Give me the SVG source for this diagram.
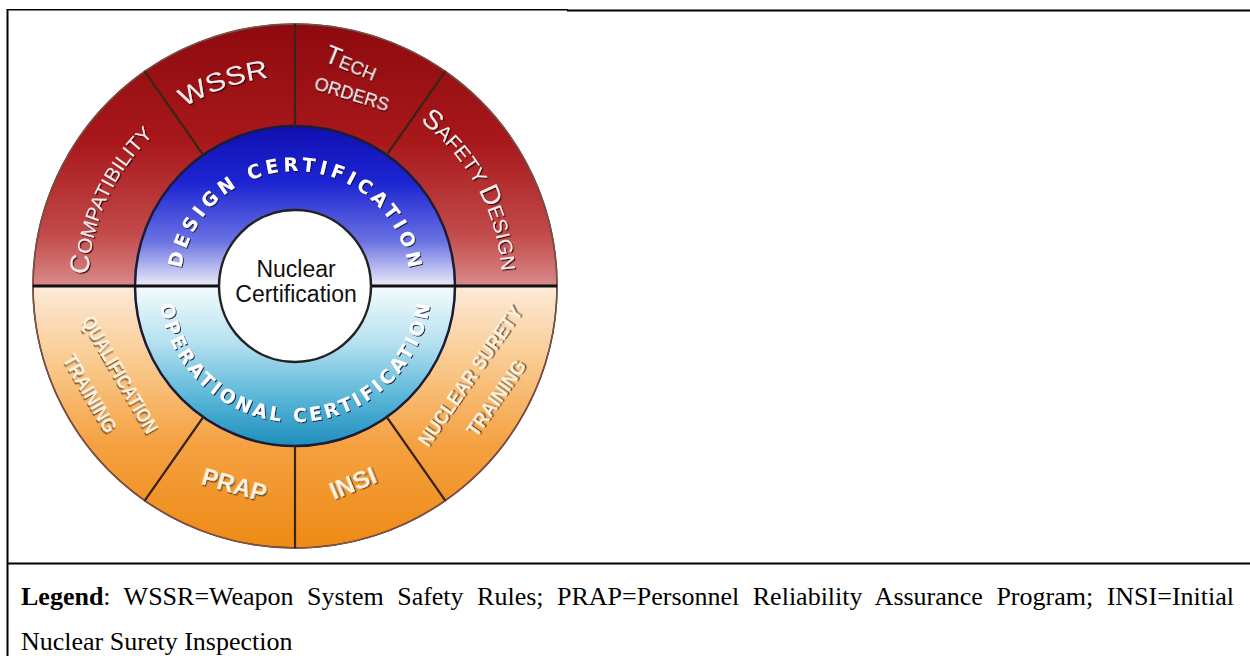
<svg xmlns="http://www.w3.org/2000/svg" width="1250" height="656" viewBox="0 0 1250 656">
<defs>
<linearGradient id="gRed" gradientUnits="userSpaceOnUse" x1="0" y1="-262" x2="0" y2="0">
<stop offset="0" stop-color="#8e0a0e"/><stop offset="0.45" stop-color="#a8181b"/><stop offset="0.8" stop-color="#c24a4a"/><stop offset="1" stop-color="#d98a8a"/>
</linearGradient>
<linearGradient id="gBlue" gradientUnits="userSpaceOnUse" x1="0" y1="-160" x2="0" y2="0">
<stop offset="0" stop-color="#1010b0"/><stop offset="0.35" stop-color="#1c24d2"/><stop offset="0.72" stop-color="#6a72e2"/><stop offset="1" stop-color="#ececf8"/>
</linearGradient>
<linearGradient id="gTeal" gradientUnits="userSpaceOnUse" x1="0" y1="0" x2="0" y2="160">
<stop offset="0" stop-color="#f4fbfd"/><stop offset="0.35" stop-color="#b6e1f0"/><stop offset="0.7" stop-color="#58b6d8"/><stop offset="1" stop-color="#1e8ebc"/>
</linearGradient>
<linearGradient id="gOrange" gradientUnits="userSpaceOnUse" x1="0" y1="0" x2="0" y2="262">
<stop offset="0" stop-color="#fdeada"/><stop offset="0.3" stop-color="#f9c98c"/><stop offset="0.6" stop-color="#f5a142"/><stop offset="1" stop-color="#ee8a14"/>
</linearGradient>
<filter id="shR" x="-20%" y="-20%" width="140%" height="140%"><feDropShadow dx="1.2" dy="1.2" stdDeviation="0.6" flood-color="#2a0404" flood-opacity="0.9"/></filter>
<filter id="shB" x="-20%" y="-20%" width="140%" height="140%"><feDropShadow dx="1" dy="1" stdDeviation="0.6" flood-color="#0a0a40" flood-opacity="0.9"/></filter>
<filter id="shO" x="-20%" y="-20%" width="140%" height="140%"><feDropShadow dx="1.2" dy="1.2" stdDeviation="0.6" flood-color="#5a2e00" flood-opacity="0.95"/></filter>
<path id="pCompat" d="M -207 0 A 207 207 0 0 1 -133.1 -158.6"/>
<path id="pWssr" d="M -147.2 -149.8 A 210 210 0 0 1 20.1 -209.0"/>
<path id="pSafety" d="M 92.4 -185.2 A 207 207 0 0 1 205.7 23.4"/>
<path id="pDesign" d="M -115 0 A 115 115 0 0 1 115 0"/>
<path id="pOper" d="M -136 0 A 136 136 0 0 0 136 0"/>
</defs>
<style>
.seg{stroke:#5a3020;stroke-width:1.5}
.div{stroke:#3a2418;stroke-width:2.2;fill:none}
.lbR{font-family:"Liberation Sans",Arial,sans-serif;fill:#f6eaea;filter:url(#shR)}
.lbB{font-family:"DejaVu Sans",sans-serif;font-weight:bold;fill:#ffffff;filter:url(#shB)}
.lbO{font-family:"Liberation Sans",Arial,sans-serif;font-weight:bold;fill:#fff4df;filter:url(#shO)}
.ctr{font-family:"Liberation Sans",Arial,sans-serif;font-size:23px;fill:#111}
.leg{font-family:"Liberation Serif","Times New Roman",serif;font-size:26px;fill:#000}
.frame{stroke:#000;fill:none}
</style>

<g id="frame">
<line class="frame" x1="7" y1="9.8" x2="568" y2="9.8" stroke-width="1.5"/>
<line class="frame" x1="567" y1="10.5" x2="1250" y2="10.5" stroke-width="2.2"/>
<line class="frame" x1="7.5" y1="9" x2="7.5" y2="656" stroke-width="2"/>
<line class="frame" x1="7" y1="563.5" x2="1250" y2="563.5" stroke-width="2.2"/>
</g>

<g id="wheel" transform="translate(295,286)">
<g id="seg-compatibility"><path class="seg" fill="url(#gRed)" d="M -262 0 A 262 262 0 0 1 -150.3 -214.6 L -91.8 -131.1 A 160 160 0 0 0 -160 0 Z"/>
<text class="lbR" font-size="20"><textPath href="#pCompat" startOffset="50%" text-anchor="middle" textLength="158" lengthAdjust="spacingAndGlyphs"><tspan font-size="27">C</tspan>OMPATIBILITY</textPath></text></g>
<g id="seg-wssr"><path class="seg" fill="url(#gRed)" d="M -150.3 -214.6 A 262 262 0 0 1 0 -262 L 0 -160 A 160 160 0 0 0 -91.8 -131.1 Z"/>
<text class="lbR" font-size="26"><textPath href="#pWssr" startOffset="50%" text-anchor="middle" textLength="90" lengthAdjust="spacingAndGlyphs">WSSR</textPath></text></g>
<g id="seg-tech"><path class="seg" fill="url(#gRed)" d="M 0 -262 A 262 262 0 0 1 150.3 -214.6 L 91.8 -131.1 A 160 160 0 0 0 0 -160 Z"/>
<text class="lbR" font-size="18" text-anchor="middle" transform="translate(53,-215) rotate(22)"><tspan font-size="25">T</tspan>ECH</text>
<text class="lbR" font-size="18" text-anchor="middle" transform="translate(55,-186) rotate(17)">ORDERS</text></g>
<g id="seg-safety"><path class="seg" fill="url(#gRed)" d="M 150.3 -214.6 A 262 262 0 0 1 262 0 L 160 0 A 160 160 0 0 0 91.8 -131.1 Z"/>
<text class="lbR" font-size="20"><textPath href="#pSafety" startOffset="50%" text-anchor="middle" textLength="176" lengthAdjust="spacingAndGlyphs"><tspan font-size="27">S</tspan>AFETY <tspan font-size="27">D</tspan>ESIGN</textPath></text></g>
<g id="seg-nuclear-surety"><path class="seg" fill="url(#gOrange)" d="M 262 0 A 262 262 0 0 1 150.3 214.6 L 91.8 131.1 A 160 160 0 0 0 160 0 Z"/>
<text class="lbO" font-size="21" text-anchor="middle" textLength="166" lengthAdjust="spacingAndGlyphs" transform="translate(181,94) rotate(-55)">NUCLEAR SURETY</text>
<text class="lbO" font-size="21" text-anchor="middle" textLength="88" lengthAdjust="spacingAndGlyphs" transform="translate(207,116) rotate(-55)">TRAINING</text></g>
<g id="seg-insi"><path class="seg" fill="url(#gOrange)" d="M 150.3 214.6 A 262 262 0 0 1 0 262 L 0 160 A 160 160 0 0 0 91.8 131.1 Z"/>
<text class="lbO" font-size="23" font-weight="normal" text-anchor="middle" textLength="48" lengthAdjust="spacingAndGlyphs" transform="translate(61,205) rotate(-22)">INSI</text></g>
<g id="seg-prap"><path class="seg" fill="url(#gOrange)" d="M 0 262 A 262 262 0 0 1 -150.3 214.6 L -91.8 131.1 A 160 160 0 0 0 0 160 Z"/>
<text class="lbO" font-size="23" font-weight="normal" text-anchor="middle" textLength="66" lengthAdjust="spacingAndGlyphs" transform="translate(-63,207) rotate(16)">PRAP</text></g>
<g id="seg-qualification"><path class="seg" fill="url(#gOrange)" d="M -150.3 214.6 A 262 262 0 0 1 -262 0 L -160 0 A 160 160 0 0 0 -91.8 131.1 Z"/>
<text class="lbO" font-size="21" text-anchor="middle" textLength="132" lengthAdjust="spacingAndGlyphs" transform="translate(-181,92) rotate(60)">QUALIFICATION</text>
<text class="lbO" font-size="21" text-anchor="middle" textLength="87" lengthAdjust="spacingAndGlyphs" transform="translate(-211,111) rotate(60)">TRAINING</text></g>

<g id="ring-design"><path fill="url(#gBlue)" d="M -160 0 A 160 160 0 0 1 160 0 L 76 0 A 76 76 0 0 0 -76 0 Z"/>
<text class="lbB" font-size="19"><textPath href="#pDesign" startOffset="50%" text-anchor="middle" textLength="326" lengthAdjust="spacing">DESIGN  CERTIFICATION</textPath></text></g>
<g id="ring-operational"><path fill="url(#gTeal)" d="M 160 0 A 160 160 0 0 1 -160 0 L -76 0 A 76 76 0 0 0 76 0 Z"/>
<text class="lbB" font-size="19"><textPath href="#pOper" startOffset="50%" text-anchor="middle" textLength="390" lengthAdjust="spacing">OPERATIONAL  CERTIFICATION</textPath></text></g>

<g id="connectors">
<circle r="262" fill="none" stroke="#7a5048" stroke-width="1.5"/>
<circle r="160" fill="none" stroke="#1c1c3a" stroke-width="2.5"/>
<line class="div" x1="-150.3" y1="-214.6" x2="-91.8" y2="-131.1"/>
<line class="div" x1="0" y1="-262" x2="0" y2="-160"/>
<line class="div" x1="150.3" y1="-214.6" x2="91.8" y2="-131.1"/>
<line class="div" x1="-150.3" y1="214.6" x2="-91.8" y2="131.1"/>
<line class="div" x1="0" y1="262" x2="0" y2="160"/>
<line class="div" x1="150.3" y1="214.6" x2="91.8" y2="131.1"/>
<line x1="-262" y1="0" x2="-76" y2="0" stroke="#111" stroke-width="3"/>
<line x1="76" y1="0" x2="262" y2="0" stroke="#111" stroke-width="3"/>
</g>

<g id="center">
<circle r="76" fill="#ffffff" stroke="#222" stroke-width="2.5"/>
<text class="ctr" x="1" y="-9" text-anchor="middle">Nuclear</text>
<text class="ctr" x="1" y="16" text-anchor="middle">Certification</text>
</g>
</g>

<g id="legend">
<text class="leg" x="21" y="605" word-spacing="7"><tspan font-weight="bold">Legend</tspan>: WSSR=Weapon System Safety Rules; PRAP=Personnel Reliability Assurance Program; INSI=Initial</text>
<text class="leg" x="21" y="650">Nuclear Surety Inspection</text>
</g>
</svg>
